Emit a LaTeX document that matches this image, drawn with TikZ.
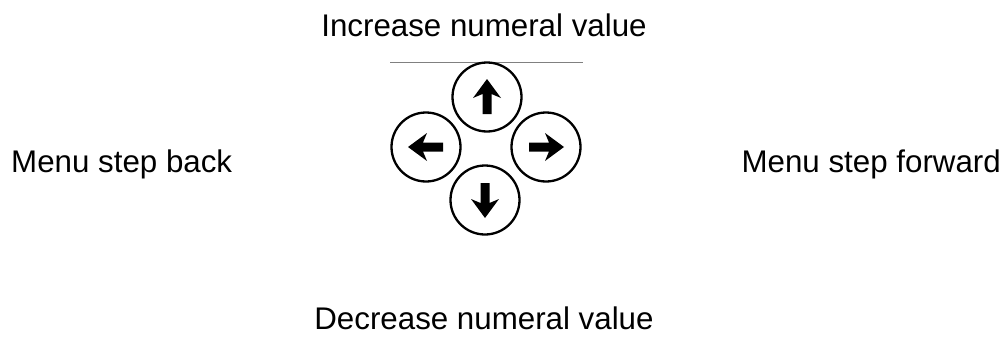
\documentclass[tikz,border=0pt]{standalone}
\usepackage{fontspec}
\setmainfont{Liberation Sans}
\begin{document}
\begin{tikzpicture}[x=1pt,y=-1pt,
  lbl/.style={inner sep=0pt,font=\fontsize{31.3}{37}\selectfont},
  btn/.style={circle,draw=black,line width=2.3pt,minimum size=69pt,inner sep=0pt},
  arrowshape/.pic={\fill[black] (0,-18) -- (14,1) -- (4.5,-3) -- (4.5,17) -- (-4.5,17) -- (-4.5,-3) -- (-14,1) -- cycle;}]
\useasboundingbox (0,0) rectangle (1005,359);
\node[lbl] (inc) at (484,25) {Increase numeral value};
\node[lbl,anchor=west] (back) at (11,164) {Menu step back};
\node[lbl,anchor=east] (fwd) at (1001,164) {Menu step forward};
\node[lbl] (dec) at (484,318) {Decrease numeral value};
\coordinate (la) at (390,62);
\coordinate (lb) at (583,62);
\draw[gray,line width=0.8pt] (la) -- (lb);
\node[btn] (up) at (487,97) {};
\node[btn] (left) at (426,147) {};
\node[btn] (right) at (546,147) {};
\node[btn] (down) at (485,200) {};
\pic at (up) {arrowshape};
\pic[rotate=90] at (left) {arrowshape};
\pic[rotate=-90] at (right) {arrowshape};
\pic[rotate=180] at (down) {arrowshape};
\end{tikzpicture}
\end{document}
